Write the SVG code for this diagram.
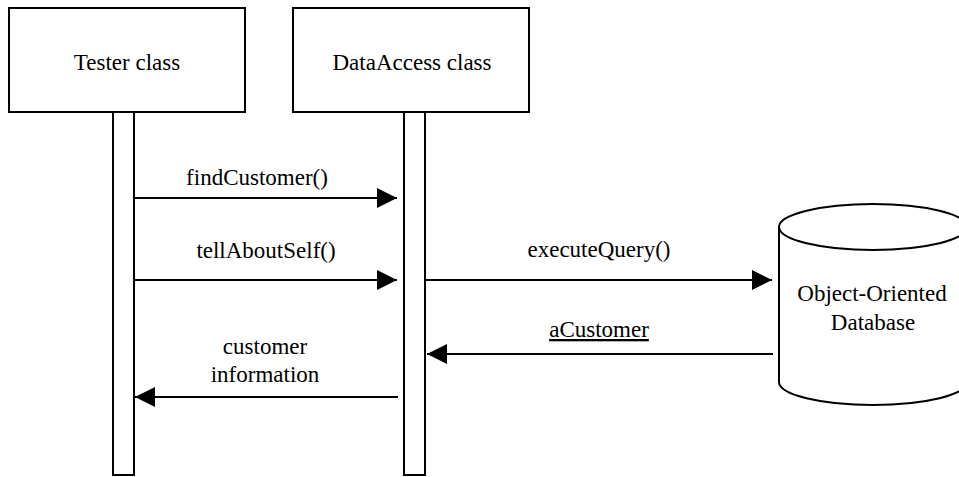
<svg xmlns="http://www.w3.org/2000/svg" width="959" height="477" viewBox="0 0 959 477">
<defs>
<marker id="ah" markerUnits="userSpaceOnUse" markerWidth="20" markerHeight="20" viewBox="0 0 18 18" refX="18" refY="9" orient="auto">
<path d="M0,0 L18,9 L0,18 Z" fill="#000"/>
</marker>
</defs>
<rect width="959" height="477" fill="#fff"/>
<g id="tester">
<rect x="9" y="8" width="236" height="104" fill="#fff" stroke="#000" stroke-width="2"/>
<text x="127" y="70" font-family="Liberation Serif" font-size="23" text-anchor="middle">Tester class</text>
<rect x="113" y="112" width="21" height="363" fill="#fff" stroke="#000" stroke-width="2"/>
</g>
<g id="dataaccess">
<rect x="293" y="8" width="236" height="104" fill="#fff" stroke="#000" stroke-width="2"/>
<text x="412" y="70" font-family="Liberation Serif" font-size="23" text-anchor="middle">DataAccess class</text>
<rect x="404" y="112" width="21" height="363" fill="#fff" stroke="#000" stroke-width="2"/>
</g>
<g id="database">
<path d="M779,227 L779,382 A94,23 0 0,0 967,382 L967,227" fill="#fff" stroke="#000" stroke-width="2"/>
<ellipse cx="873" cy="227" rx="94" ry="23" fill="#fff" stroke="#000" stroke-width="2"/>
<text x="872" y="301" font-family="Liberation Serif" font-size="23" text-anchor="middle">Object-Oriented</text>
<text x="873" y="330" font-family="Liberation Serif" font-size="23" text-anchor="middle">Database</text>
</g>
<g id="connectors">
<line x1="134" y1="198" x2="397" y2="198" stroke="#000" stroke-width="2" marker-end="url(#ah)"/>
<text x="257" y="185" font-family="Liberation Serif" font-size="23" text-anchor="middle">findCustomer()</text>
<line x1="134" y1="280" x2="397" y2="280" stroke="#000" stroke-width="2" marker-end="url(#ah)"/>
<text x="266" y="258" font-family="Liberation Serif" font-size="23" text-anchor="middle">tellAboutSelf()</text>
<line x1="425" y1="280" x2="772" y2="280" stroke="#000" stroke-width="2" marker-end="url(#ah)"/>
<text x="599" y="257" font-family="Liberation Serif" font-size="23" text-anchor="middle">executeQuery()</text>
<line x1="773" y1="354" x2="427" y2="354" stroke="#000" stroke-width="2" marker-end="url(#ah)"/>
<text x="599" y="337" font-family="Liberation Serif" font-size="23" text-anchor="middle" text-decoration="underline">aCustomer</text>
<line x1="398" y1="397" x2="135" y2="397" stroke="#000" stroke-width="2" marker-end="url(#ah)"/>
<text x="265" y="354" font-family="Liberation Serif" font-size="23" text-anchor="middle">customer</text>
<text x="265" y="382" font-family="Liberation Serif" font-size="23" text-anchor="middle">information</text>
</g>
</svg>
